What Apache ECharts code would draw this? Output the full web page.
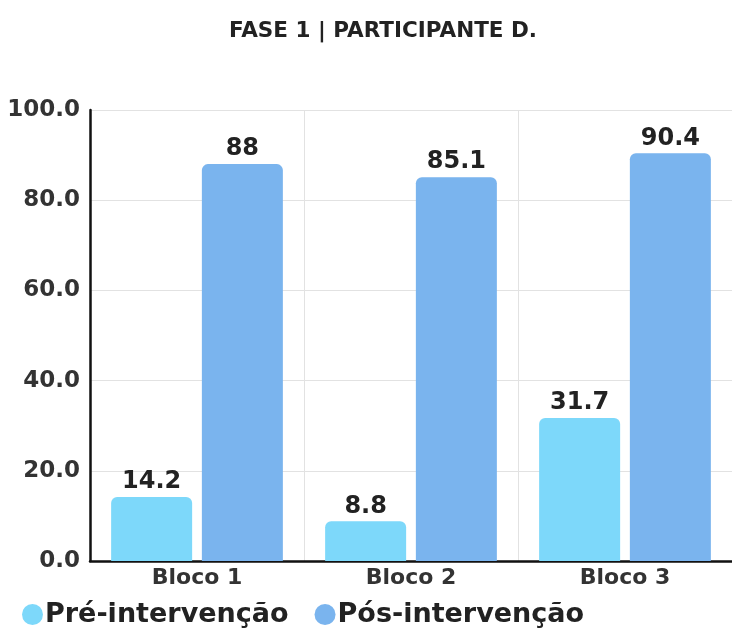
<!DOCTYPE html>
<html>
<head>
<meta charset="utf-8">
<script src="https://cdn.jsdelivr.net/npm/echarts@6/dist/echarts.min.js"></script>
<style>
html,body{margin:0;padding:0;background:#fff;}
#chart{width:732px;height:630px;}
</style>
</head>
<body>
<div id="chart"></div>
<script>
const titleText = 'FASE 1 | PARTICIPANTE D.';
const categories = ['Bloco 1', 'Bloco 2', 'Bloco 3'];
const seriesNames = ['Pré-intervenção', 'Pós-intervenção'];
const preValues = [14.2, 8.8, 31.7];
const posValues = [88, 85.1, 90.4];
const yTicks = [0, 20, 40, 60, 80, 100];

const chart = echarts.init(document.getElementById('chart'));
const labelStyle = {
  show: true, position: 'top', distance: 3,
  fontFamily: 'DejaVu Sans', fontWeight: 'bold', fontSize: 24, color: '#222'
};
chart.setOption({
  animation: false,
  backgroundColor: '#fff',
  title: {
    text: titleText, left: 378, top: 15, textAlign: 'center',
    textStyle: { fontFamily: 'DejaVu Sans', fontWeight: 900, fontSize: 21.5, color: '#222' }
  },
  legend: {
    data: seriesNames, left: 17, top: 596, icon: 'circle',
    itemWidth: 21, itemHeight: 21, itemGap: 26,
    textStyle: { fontFamily: 'DejaVu Sans', fontWeight: 'bold', fontSize: 27, color: '#222', padding: [0,0,0,-3] }
  },
  grid: { left: 90, width: 648, top: 110, bottom: 69, containLabel: false },
  xAxis: {
    type: 'category', data: categories,
    axisLine: { lineStyle: { color: '#111', width: 2.5 } },
    axisTick: { show: false },
    axisLabel: { fontFamily: 'DejaVu Sans', fontWeight: 'bold', fontSize: 22, color: '#333', margin: 6 },
    splitLine: { show: true, lineStyle: { color: '#e2e2e2', width: 1 } }
  },
  yAxis: {
    type: 'value', min: 0, max: 100, interval: 20,
    axisLine: { show: true, lineStyle: { color: '#111', width: 2.5 } },
    axisTick: { show: false },
    axisLabel: {
      fontFamily: 'DejaVu Sans', fontWeight: 'bold', fontSize: 23, color: '#333', margin: 10,
      formatter: v => yTicks.includes(v) ? v.toFixed(1) : ''
    },
    splitLine: { lineStyle: { color: '#e2e2e2', width: 1 } }
  },
  series: [
    {
      name: seriesNames[0], type: 'bar', data: preValues,
      barWidth: 81, barGap: '12%',
      itemStyle: { color: '#7dd8fa', borderRadius: [6,6,0,0] },
      label: labelStyle
    },
    {
      name: seriesNames[1], type: 'bar', data: posValues,
      barWidth: 81,
      itemStyle: { color: '#7ab4ee', borderRadius: [6,6,0,0] },
      label: labelStyle
    }
  ]
});
</script>
</body>
</html>
